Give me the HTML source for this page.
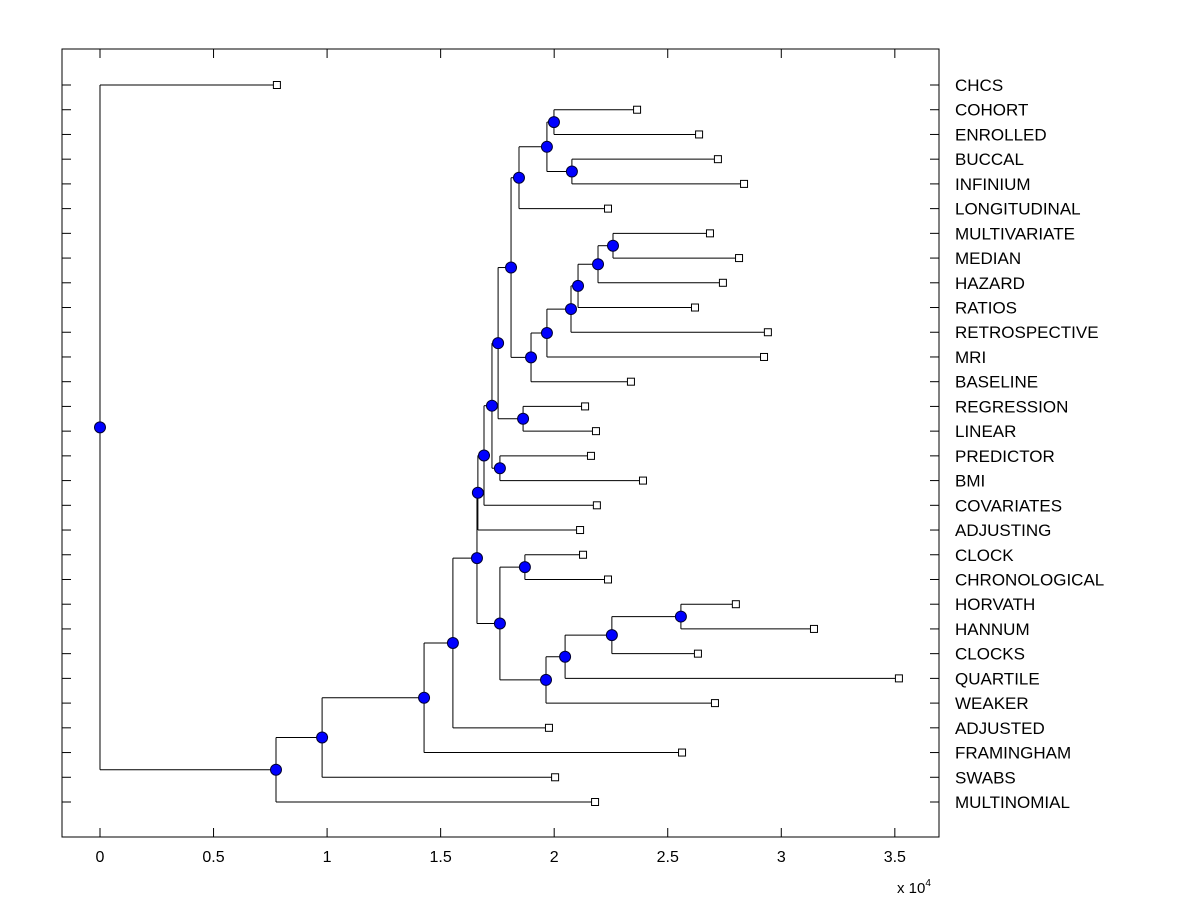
<!DOCTYPE html>
<html><head><meta charset="utf-8"><style>
html,body{margin:0;padding:0;background:#fff;}
svg{display:block;font-family:"Liberation Sans",sans-serif;}
</style></head><body>
<svg id="chart" width="1200" height="900" xmlns="http://www.w3.org/2000/svg">
<rect x="0" y="0" width="1200" height="900" fill="#fff"/>
<g id="marks"></g>
<rect x="62" y="49" width="877" height="788" fill="none" stroke="#000" stroke-width="1"/>
</svg>
<script>
const labels=["CHCS","COHORT","ENROLLED","BUCCAL","INFINIUM","LONGITUDINAL","MULTIVARIATE","MEDIAN","HAZARD","RATIOS","RETROSPECTIVE","MRI","BASELINE","REGRESSION","LINEAR","PREDICTOR","BMI","COVARIATES","ADJUSTING","CLOCK","CHRONOLOGICAL","HORVATH","HANNUM","CLOCKS","QUARTILE","WEAKER","ADJUSTED","FRAMINGHAM","SWABS","MULTINOMIAL"];
const leafValues=[0.779,2.365,2.638,2.721,2.836,2.237,2.686,2.814,2.743,2.620,2.941,2.924,2.338,2.136,2.184,2.162,2.391,2.188,2.114,2.127,2.237,2.800,3.144,2.633,3.518,2.708,1.977,2.563,2.004,2.180];
const mergeA=[1,3,30,32,6,34,35,36,37,38,33,13,40,15,42,44,45,19,21,48,49,50,47,46,53,54,55,56,0];
const mergeB=[2,4,31,5,7,8,9,10,11,12,39,14,41,16,43,17,18,20,22,23,24,25,51,52,26,27,28,29,57];
const mergeHeights=[1.999,2.078,1.968,1.845,2.259,2.193,2.105,2.074,1.968,1.898,1.810,1.863,1.753,1.761,1.726,1.691,1.664,1.871,2.558,2.254,2.048,1.964,1.761,1.660,1.554,1.427,0.978,0.775,0];
const xTicks=[0,0.5,1,1.5,2,2.5,3,3.5];
const xTickLabels=["0","0.5","1","1.5","2","2.5","3","3.5"];

const X0=62,X1=939,Y0=49,Y1=837, XMIN=-0.1673, XMAX=3.6945;
const xs=v=>X0+(v-XMIN)/(XMAX-XMIN)*(X1-X0);
const ys=i=>85+i*(802-85)/29;
const NS="http://www.w3.org/2000/svg";
const svg=document.getElementById('chart');
const g=document.getElementById('marks');
function mk(tag,attrs,parent){const e=document.createElementNS(NS,tag);for(const k in attrs)e.setAttribute(k,attrs[k]);(parent||g).appendChild(e);return e;}

const nx=[],ny=[];
leafValues.forEach((v,i)=>{nx[i]=xs(v);ny[i]=ys(i);});
const n=leafValues.length;
const lines=[],dots=[];
mergeHeights.forEach((h,k)=>{
  const id=n+k,a=mergeA[k],b=mergeB[k],x=xs(h);
  nx[id]=x;ny[id]=(ny[a]+ny[b])/2;
  lines.push([x,ny[a],x,ny[b]],[x,ny[a],nx[a],ny[a]],[x,ny[b],nx[b],ny[b]]);
  dots.push(id);
});
lines.forEach(l=>{
  const e=mk('line',{x1:l[0],y1:l[1],x2:l[2],y2:l[3],stroke:'#000','stroke-width':1});
  
  
});
leafValues.forEach((v,i)=>{
  const e=mk('rect',{x:nx[i]-3.5,y:ny[i]-3.5,width:7,height:7,fill:'#fff',stroke:'#000','stroke-width':1});
  
  
  const t=mk('text',{x:955,y:ny[i]+6,'font-size':17,fill:'#000'});
  t.textContent=labels[i];
  
  
  const t1=mk('line',{x1:X0,y1:ny[i],x2:X0+9,y2:ny[i],stroke:'#000'});
  
  
  const t2=mk('line',{x1:X1-9,y1:ny[i],x2:X1,y2:ny[i],stroke:'#000'});
  
  
});
dots.forEach(id=>{
  const c=mk('circle',{cx:nx[id],cy:ny[id],r:5.5,fill:'#0000ff',stroke:'#000033','stroke-width':1});
  
  
});
xTicks.forEach((v,i)=>{
  const x=xs(v);
  const a=mk('line',{x1:x,y1:Y1,x2:x,y2:Y1-9,stroke:'#000'});
  
  
  const b=mk('line',{x1:x,y1:Y0,x2:x,y2:Y0+9,stroke:'#000'});
  
  
  const t=mk('text',{x:x,y:862,'font-size':16,'text-anchor':'middle',fill:'#000'});
  t.textContent=xTickLabels[i];
  
  
});
const ex=mk('text',{x:897,y:893,'font-size':15,fill:'#000'});
ex.innerHTML='x 10<tspan dy="-7" font-size="10">4</tspan>';


</script>
</body></html>
